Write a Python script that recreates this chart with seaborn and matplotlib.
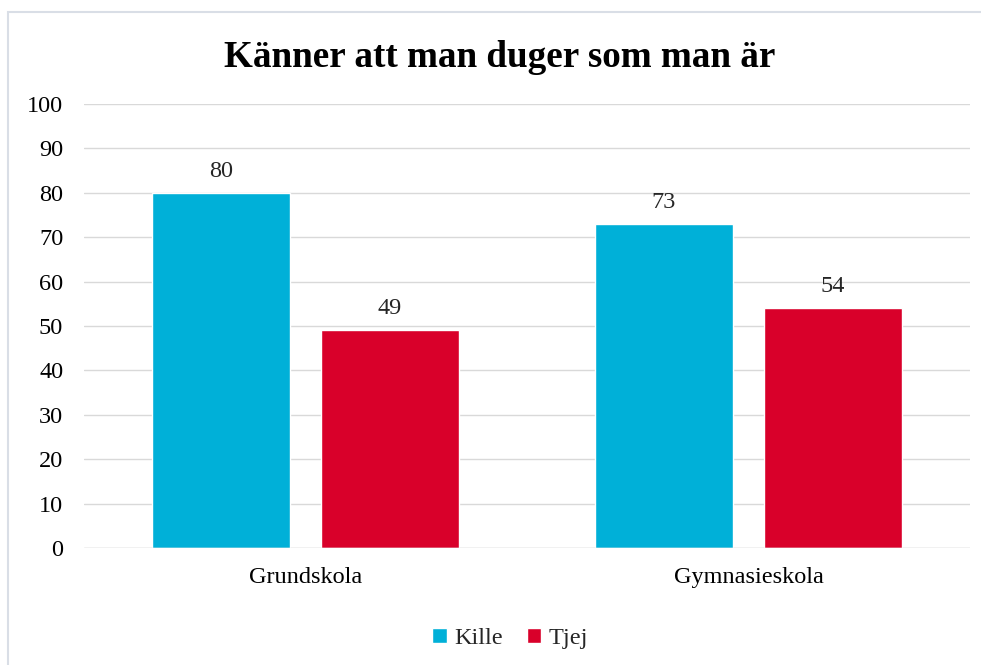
import matplotlib
matplotlib.use("Agg")
import matplotlib.pyplot as plt
import seaborn as sns
import pandas as pd
from matplotlib.patches import Rectangle

# data
skolor = ["Grundskola", "Gymnasieskola"]
kille = [80, 73]
tjej = [49, 54]
serier = ["Kille", "Tjej"]
farger = ["#00B0D8", "#D9002A"]
yticks = list(range(0, 101, 10))

df = pd.DataFrame({
    "skola": skolor * 2,
    "kon": ["Kille"] * len(skolor) + ["Tjej"] * len(skolor),
    "varde": kille + tjej,
})

sns.set_theme(style="white")
plt.rcParams["font.family"] = ["Liberation Serif", "DejaVu Serif"]

fig = plt.figure(figsize=(9.81, 6.65), dpi=100)
ax = fig.add_axes([0.0856, 0.176, 0.9032, 0.6676])

sns.barplot(data=df, x="skola", y="varde", hue="kon", hue_order=serier,
            palette=farger, width=0.763, gap=0.187, saturation=1, ax=ax,
            legend=True)

for c in ax.containers:
    ax.bar_label(c, fmt="%d", padding=8, fontsize=17.5, color="#262626")

ax.set_ylim(0, 100)
ax.set_yticks(yticks)
ax.set_xlim(-0.5, 1.5)
ax.set_xlabel("")
ax.set_ylabel("")
ax.tick_params(axis="both", labelsize=17.5, colors="#000000", length=0)
ax.tick_params(axis="y", pad=15)
ax.tick_params(axis="x", pad=14)
ax.grid(axis="y", color="#D9D9D9", linewidth=1)
ax.set_axisbelow(True)
for s in ax.spines.values():
    s.set_visible(False)
ax.axhline(0, color="#D9D9D9", linewidth=1, zorder=1)

ax.legend(loc="center", bbox_to_anchor=(0.481, -0.204),
          ncol=2, frameon=False, fontsize=17.5, handlelength=0.6,
          handleheight=0.6, handletextpad=0.3, columnspacing=1.0)

fig.suptitle("Känner att man duger som man är", y=0.914, x=0.509, va="center",
             fontsize=26.7, fontweight="bold", color="#000000")

# chart border
fig.patches.append(Rectangle((8 / 981, -0.1), 1.2, 1 - 12 / 665 + 0.1,
                             transform=fig.transFigure, fill=False,
                             edgecolor="#D9DEE6", linewidth=1.5))

fig.savefig("out.png", dpi=100)
